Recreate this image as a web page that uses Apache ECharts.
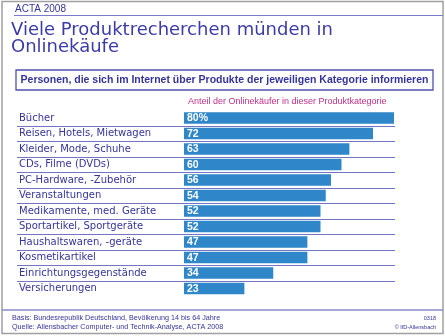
<!DOCTYPE html>
<html><head><meta charset="utf-8">
<script src="https://cdn.jsdelivr.net/npm/echarts@6/dist/echarts.min.js"></script>
<style>html,body{margin:0;padding:0;background:#fff}#c{width:445px;height:336px}</style>
</head><body><div id="c"></div>
<script>
const categories = ['Bücher','Reisen, Hotels, Mietwagen','Kleider, Mode, Schuhe','CDs, Filme (DVDs)','PC-Hardware, -Zubehör','Veranstaltungen','Medikamente, med. Geräte','Sportartikel, Sportgeräte','Haushaltswaren, -geräte','Kosmetikartikel','Einrichtungsgegenstände','Versicherungen'];
const values = [80,72,63,60,56,54,52,52,47,47,34,23];
const headerText = 'ACTA 2008';
const titleLines = ['Viele Produktrecherchen münden in','Onlinekäufe'];
const subtitle = 'Personen, die sich im Internet über Produkte der jeweiligen Kategorie informieren';
const seriesLabel = 'Anteil der Onlinekäufer in dieser Produktkategorie';
const footLeft = ['Basis: Bundesrepublik Deutschland, Bevölkerung 14 bis 64 Jahre','Quelle: Allensbacher Computer- und Technik-Analyse, ACTA 2008'];
const footRight = ['0318','© IfD-Allensbach'];

const FONT = 'Liberation Sans, Arial, sans-serif';
const WIDE = 'DejaVu Sans, sans-serif';
const dark = '#34349a';
const chart = echarts.init(document.getElementById('c'), null, {renderer:'canvas'});
const gTop = 110.25, gH = 186;
chart.setOption({
  animation:false,
  grid:[
    {left:184, right:51, top:gTop, height:gH},
    {left:17, right:50, top:gTop, height:gH}
  ],
  xAxis:[
    {gridIndex:0, type:'value', min:0, max:80, show:false},
    {gridIndex:1, type:'value', min:0, max:1, show:false}
  ],
  yAxis:[
    {gridIndex:0, type:'category', data:categories, inverse:true,
     axisLine:{show:false}, axisTick:{show:false}, splitLine:{show:false},
     axisLabel:{interval:0, align:'left', margin:165, color:dark, fontFamily:WIDE, fontSize:10}},
    {gridIndex:1, type:'category', data:categories, inverse:true,
     axisLine:{show:false}, axisTick:{show:false, interval:0}, axisLabel:{show:false, interval:0},
     splitLine:{show:true, interval:0, showMinLine:false, showMaxLine:false, lineStyle:{color:'#7474c4', width:1.2}}}
  ],
  series:[{
    type:'bar', xAxisIndex:0, yAxisIndex:0, data:values, barWidth:11.5,
    itemStyle:{color:'#2f86c9'},
    label:{show:true, position:'insideLeft', offset:[-2,0.5], color:'#fff', fontWeight:'bold',
      fontFamily:FONT, fontSize:10.5,
      formatter:p => p.dataIndex===0 ? p.value+'%' : String(p.value)}
  }],
  graphic:[
    {type:'rect', shape:{x:2,y:1.5,width:441,height:332}, style:{fill:null, stroke:'#a0a0a0', lineWidth:1.5}, silent:true},
    {type:'line', shape:{x1:14,y1:15.5,x2:443,y2:15.5}, style:{stroke:'#7a7acc', lineWidth:1.2}},
    {type:'text', x:15, y:9, style:{text:headerText, fill:dark, font:'10px '+FONT, verticalAlign:'middle'}},
    {type:'text', x:11, y:30.5, style:{text:titleLines[0], fill:'#3c3ca8', font:'18px '+WIDE, verticalAlign:'middle'}},
    {type:'text', x:11, y:47, style:{text:titleLines[1], fill:'#3c3ca8', font:'18px '+WIDE, verticalAlign:'middle'}},
    {type:'rect', shape:{x:16,y:70,width:417,height:20}, style:{fill:null, stroke:'#5050b0', lineWidth:1.3}},
    {type:'text', x:224.5, y:80, style:{text:subtitle, fill:dark, font:'bold 10.5px '+FONT, align:'center', verticalAlign:'middle'}},
    {type:'text', x:188, y:101.5, style:{text:seriesLabel, fill:'#c0308a', font:'9px '+FONT, verticalAlign:'middle'}},
    {type:'line', shape:{x1:2,y1:310,x2:443,y2:310}, style:{stroke:'#8a8acc', lineWidth:1.3}},
    {type:'text', x:12, y:318.5, style:{text:footLeft[0], fill:dark, font:'7.2px '+FONT, verticalAlign:'middle'}},
    {type:'text', x:12, y:327, style:{text:footLeft[1], fill:dark, font:'7.2px '+FONT, verticalAlign:'middle'}},
    {type:'text', x:436, y:318.5, style:{text:footRight[0], fill:dark, font:'5.5px '+FONT, align:'right', verticalAlign:'middle'}},
    {type:'text', x:436, y:327, style:{text:footRight[1], fill:dark, font:'5.5px '+FONT, align:'right', verticalAlign:'middle'}}
  ]
});
</script></body></html>
